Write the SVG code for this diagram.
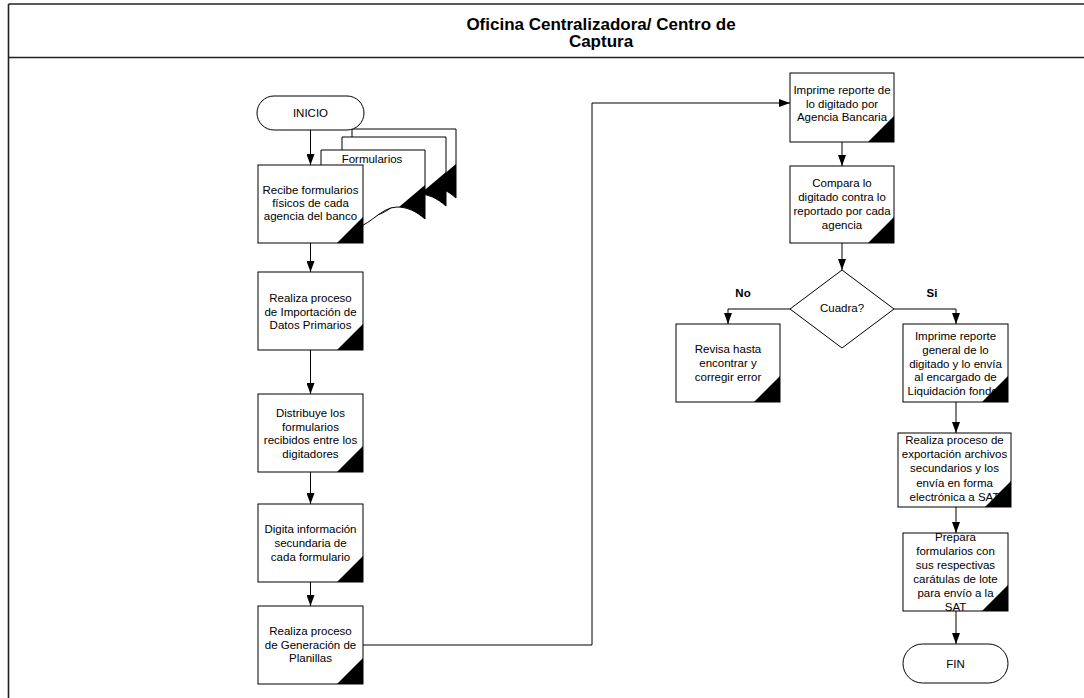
<svg xmlns="http://www.w3.org/2000/svg" width="1084" height="698" viewBox="0 0 1084 698">
  <defs>
    <style>
      .frame { stroke: #222; stroke-width: 1.6; fill: none; }
      .box { fill: #fff; stroke: #000; stroke-width: 1; }
      .mark { fill: #000; stroke: none; }
      .lbl { font-family: "Liberation Sans", Arial, sans-serif; font-size: 11.5px; fill: #000; text-anchor: middle; }
      .bold { font-weight: bold; }
      .title { font-family: "Liberation Sans", Arial, sans-serif; font-size: 17px; font-weight: bold; fill: #000; text-anchor: middle; }
      .conn { fill: none; stroke: #000; stroke-width: 1; }
    </style>
    <marker id="arrow" markerUnits="userSpaceOnUse" markerWidth="11" markerHeight="8" refX="11" refY="4" orient="auto">
      <path d="M0,0 L11,4 L0,8 Z" fill="#000"/>
    </marker>
    <!-- document sheet with wavy lower edge, drawn at the origin -->
    <path id="docShape" d="M0,0 H104 V69 C95,61 86,57 76,57 C58,57 48,80 24,80 C12,80 5,76 0,73 Z"/>
    <path id="docMark" d="M104,35 V69 C95,61 86,57 78,57 Z"/>
  </defs>

  <rect x="0" y="0" width="1084" height="698" fill="#fff"/>

  <!-- pool frame and header -->
  <g id="frame">
    <line class="frame" x1="8.5" y1="4" x2="1084" y2="4"/>
    <line class="frame" x1="8.5" y1="57.5" x2="1084" y2="57.5"/>
    <line class="frame" x1="8.5" y1="4" x2="8.5" y2="698"/>
    <text class="title" x="601" y="29.5">Oficina Centralizadora/ Centro de</text>
    <text class="title" x="601" y="46.5">Captura</text>
  </g>

  <!-- connectors -->
  <g id="connectors">
    <line class="conn" x1="310.5" y1="130" x2="310.5" y2="165" marker-end="url(#arrow)"/>
    <line class="conn" x1="310.5" y1="243" x2="310.5" y2="272" marker-end="url(#arrow)"/>
    <line class="conn" x1="310.5" y1="350" x2="310.5" y2="394" marker-end="url(#arrow)"/>
    <line class="conn" x1="310.5" y1="472" x2="310.5" y2="504" marker-end="url(#arrow)"/>
    <line class="conn" x1="310.5" y1="582" x2="310.5" y2="606" marker-end="url(#arrow)"/>
    <polyline class="conn" points="363,645 592,645 592,103 790,103" marker-end="url(#arrow)"/>
    <line class="conn" x1="842" y1="142" x2="842" y2="166" marker-end="url(#arrow)"/>
    <line class="conn" x1="842" y1="243" x2="842" y2="270" marker-end="url(#arrow)"/>
    <polyline class="conn" points="790,309 728,309 728,324" marker-end="url(#arrow)"/>
    <polyline class="conn" points="894,309 956,309 956,324" marker-end="url(#arrow)"/>
    <line class="conn" x1="956" y1="402" x2="956" y2="433" marker-end="url(#arrow)"/>
    <line class="conn" x1="956" y1="507" x2="956" y2="533" marker-end="url(#arrow)"/>
    <line class="conn" x1="956" y1="611" x2="956" y2="644" marker-end="url(#arrow)"/>
  </g>

  <!-- stacked documents -->
  <g id="formularios">
    <g transform="translate(352,129)">
      <use href="#docShape" class="box"/>
      <use href="#docMark" class="mark"/>
    </g>
    <g transform="translate(342,137)">
      <use href="#docShape" class="box"/>
      <use href="#docMark" class="mark"/>
    </g>
    <g transform="translate(321,150)">
      <use href="#docShape" class="box"/>
      <use href="#docMark" class="mark"/>
    </g>
    <text class="lbl" x="372" y="163">Formularios</text>
  </g>

  <g id="inicio">
    <rect class="box" x="257" y="96" width="107" height="34" rx="17" ry="17"/>
    <text class="lbl" x="310.5" y="117">INICIO</text>
  </g>

  <g id="recibe">
    <rect class="box" x="258" y="165" width="105" height="78"/>
    <text class="lbl" x="310.5" y="194">Recibe formularios</text>
    <text class="lbl" x="310.5" y="207">físicos de cada</text>
    <text class="lbl" x="310.5" y="220">agencia del banco</text>
    <path class="mark" d="M337,243 L363,217 L363,243 Z"/>
  </g>

  <g id="importacion">
    <rect class="box" x="258" y="272" width="105" height="78"/>
    <text class="lbl" x="310.5" y="302">Realiza proceso</text>
    <text class="lbl" x="310.5" y="315.5">de Importación de</text>
    <text class="lbl" x="310.5" y="329">Datos Primarios</text>
    <path class="mark" d="M337,350 L363,324 L363,350 Z"/>
  </g>

  <g id="distribuye">
    <rect class="box" x="258" y="394" width="105" height="78"/>
    <text class="lbl" x="310.5" y="417">Distribuye los</text>
    <text class="lbl" x="310.5" y="430.5">formularios</text>
    <text class="lbl" x="310.5" y="444">recibidos entre los</text>
    <text class="lbl" x="310.5" y="458">digitadores</text>
    <path class="mark" d="M337,472 L363,446 L363,472 Z"/>
  </g>

  <g id="digita">
    <rect class="box" x="258" y="504" width="105" height="78"/>
    <text class="lbl" x="310.5" y="533">Digita información</text>
    <text class="lbl" x="310.5" y="547">secundaria de</text>
    <text class="lbl" x="310.5" y="561">cada formulario</text>
    <path class="mark" d="M337,582 L363,556 L363,582 Z"/>
  </g>

  <g id="generacion">
    <rect class="box" x="258" y="606" width="105" height="78"/>
    <text class="lbl" x="310.5" y="635">Realiza proceso</text>
    <text class="lbl" x="310.5" y="648.5">de Generación de</text>
    <text class="lbl" x="310.5" y="662">Planillas</text>
    <path class="mark" d="M337,684 L363,658 L363,684 Z"/>
  </g>

  <g id="imprime-agencia">
    <rect class="box" x="790" y="73" width="104" height="69"/>
    <text class="lbl" x="842" y="94">Imprime reporte de</text>
    <text class="lbl" x="842" y="107.5">lo digitado por</text>
    <text class="lbl" x="842" y="121">Agencia Bancaria</text>
    <path class="mark" d="M868,142 L894,116 L894,142 Z"/>
  </g>

  <g id="compara">
    <rect class="box" x="790" y="166" width="104" height="77"/>
    <text class="lbl" x="842" y="187">Compara lo</text>
    <text class="lbl" x="842" y="201">digitado contra lo</text>
    <text class="lbl" x="842" y="215">reportado por cada</text>
    <text class="lbl" x="842" y="229">agencia</text>
    <path class="mark" d="M868,243 L894,217 L894,243 Z"/>
  </g>

  <g id="cuadra">
    <path class="box" d="M842,270 L894,309 L842,348 L790,309 Z"/>
    <text class="lbl" x="842" y="312">Cuadra?</text>
    <text class="lbl bold" x="743" y="297">No</text>
    <text class="lbl bold" x="932" y="297">Si</text>
  </g>

  <g id="revisa">
    <rect class="box" x="676" y="324" width="104" height="78"/>
    <text class="lbl" x="728" y="353">Revisa hasta</text>
    <text class="lbl" x="728" y="367">encontrar y</text>
    <text class="lbl" x="728" y="381">corregir error</text>
    <path class="mark" d="M754,402 L780,376 L780,402 Z"/>
  </g>

  <g id="imprime-general">
    <rect class="box" x="903" y="324" width="105" height="78"/>
    <text class="lbl" x="955.5" y="340">Imprime reporte</text>
    <text class="lbl" x="955.5" y="354">general de lo</text>
    <text class="lbl" x="955.5" y="367.5">digitado y lo envía</text>
    <text class="lbl" x="955.5" y="381">al encargado de</text>
    <text class="lbl" x="955.5" y="395">Liquidación fondos</text>
    <path class="mark" d="M982,402 L1008,376 L1008,402 Z"/>
  </g>

  <g id="exportacion">
    <rect class="box" x="898" y="433" width="113" height="74"/>
    <text class="lbl" x="954.5" y="444">Realiza proceso de</text>
    <text class="lbl" x="954.5" y="458">exportación archivos</text>
    <text class="lbl" x="954.5" y="472">secundarios y los</text>
    <text class="lbl" x="954.5" y="486.5">envía en forma</text>
    <text class="lbl" x="954.5" y="500.5">electrónica a SAT</text>
    <path class="mark" d="M985,507 L1011,481 L1011,507 Z"/>
  </g>

  <g id="prepara">
    <rect class="box" x="903" y="533" width="105" height="78"/>
    <text class="lbl" x="955.5" y="541">Prepara</text>
    <text class="lbl" x="955.5" y="555">formularios con</text>
    <text class="lbl" x="955.5" y="569">sus respectivas</text>
    <text class="lbl" x="955.5" y="583">carátulas de lote</text>
    <text class="lbl" x="955.5" y="597">para envío a la</text>
    <text class="lbl" x="955.5" y="611">SAT</text>
    <path class="mark" d="M982,611 L1008,585 L1008,611 Z"/>
  </g>

  <g id="fin">
    <rect class="box" x="903" y="644" width="105" height="39" rx="19.5" ry="19.5"/>
    <text class="lbl" x="955.5" y="668">FIN</text>
  </g>
</svg>
